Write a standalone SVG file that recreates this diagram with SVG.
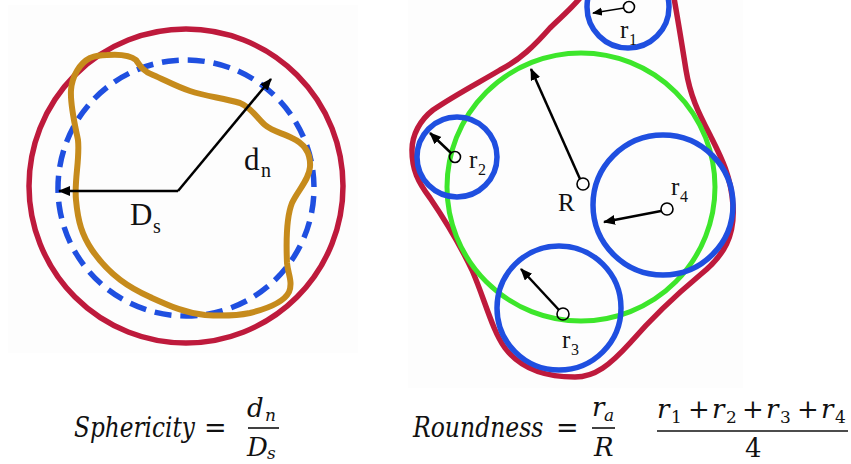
<svg xmlns="http://www.w3.org/2000/svg" width="851" height="464" viewBox="0 0 851 464">
<style>
.red{fill:none;stroke:#BE1A3C;stroke-width:5.5}
.blue{fill:none;stroke:#1F4FE0;stroke-width:5.5}
.green{fill:none;stroke:#3DE62B;stroke-width:5}
.brown{fill:none;stroke:#C68B1C;stroke-width:6;stroke-linejoin:round}
.arr{stroke:#000;stroke-width:2.5;fill:none;marker-end:url(#ah)}
.arrt{stroke:#000;stroke-width:1.3;fill:none;marker-end:url(#ahs)}
.dot{fill:none;stroke:#000;stroke-width:1.6}
.lbl{font-family:"Liberation Serif","Times New Roman",serif;fill:#111}
.math{font-family:"DejaVu Serif",serif;font-style:italic;fill:#111}
.up{font-family:"DejaVu Serif",serif;fill:#111}
.bar{stroke:#111;stroke-width:1.6}
</style>
<defs>
<marker id="ah" markerUnits="userSpaceOnUse" markerWidth="14" markerHeight="12" refX="11" refY="5" orient="auto"><path d="M0,0 L12,5 L0,10 Z" fill="#000"/></marker>
<marker id="ahs" markerUnits="userSpaceOnUse" markerWidth="12" markerHeight="10" refX="9" refY="4" orient="auto"><path d="M0,0 L10,4 L0,8 Z" fill="#000"/></marker>
</defs>
<rect x="0" y="0" width="851" height="464" fill="#fff"/>
<rect x="8" y="5" width="350" height="348" fill="#fdfdfd"/>
<rect x="408" y="0" width="335" height="388" fill="#fdfdfd"/>

<g id="sphericity">
<circle class="red" cx="186" cy="186" r="157"/>
<circle class="blue" cx="186" cy="188" r="128" stroke-dasharray="17 8.94" transform="rotate(-8 186 188)"/>
<path class="brown" d="M107,55 C120,54 130,55 136,60 C140,66 143,71 153,75 C165,80 175,86 190,91 C205,96 222,98 240,103 C252,108 256,117 265,125 C272,131 282,133 292,138 C303,143 311,152 310,167 C309,180 298,190 292,203 C286,218 286,240 287,263 C288,274 293,282 289,292 C284,302 270,308 250,313 C235,316 220,316 205,315 C185,313 170,306 150,297 C130,288 110,276 92,250 C82,235 78,222 76,200 C74,180 80,160 78,140 C75,125 70,105 71,90 C72,76 80,63 90,58 C95,56 100,55 107,55 Z"/>
<line class="arr" x1="178" y1="191" x2="59" y2="191"/>
<line class="arr" x1="178" y1="191" x2="271" y2="79"/>
<text class="lbl" x="244" y="170" font-size="31">d</text>
<text class="lbl" x="261" y="177" font-size="20">n</text>
<text class="lbl" x="130" y="225" font-size="31">D</text>
<text class="lbl" x="153" y="233" font-size="20">s</text>
</g>

<g id="roundness">
<path class="red" d="M580,-2 C570,10 560,18 550,28 C535,45 520,60 500,70 C480,82 455,95 433,110 C420,120 412,135 412,150 C412,170 418,182 430,198 C445,220 460,245 472,270 C485,300 492,330 505,348 C520,368 545,377 575,377 C595,377 610,365 630,343 C650,320 670,300 700,275 C725,255 735,235 733,205 C731,175 720,155 710,135 C698,112 690,95 686,70 C682,45 678,20 674,-2"/>
<circle class="green" cx="581" cy="187" r="134"/>
<circle class="blue" cx="628" cy="7" r="41"/>
<circle class="blue" cx="457" cy="157" r="40"/>
<circle class="blue" cx="663" cy="205" r="70"/>
<circle class="blue" cx="559" cy="308" r="62"/>
<circle class="dot" cx="629" cy="7" r="5.5"/>
<circle class="dot" cx="455" cy="157" r="5.5"/>
<circle class="dot" cx="583" cy="184" r="6"/>
<circle class="dot" cx="667" cy="209" r="6"/>
<circle class="dot" cx="563" cy="314" r="6"/>
<line class="arrt" x1="624" y1="8" x2="593" y2="13"/>
<line class="arr" x1="451" y1="153" x2="430" y2="133"/>
<line class="arr" x1="580" y1="179" x2="531" y2="69"/>
<line class="arr" x1="661" y1="211" x2="604" y2="222"/>
<line class="arr" x1="559" y1="310" x2="521" y2="269"/>
<text class="lbl" x="620" y="38" font-size="25">r</text>
<text class="lbl" x="629" y="45" font-size="16">1</text>
<text class="lbl" x="469" y="168" font-size="25">r</text>
<text class="lbl" x="478" y="175" font-size="16">2</text>
<text class="lbl" x="558" y="211" font-size="25">R</text>
<text class="lbl" x="671" y="195" font-size="25">r</text>
<text class="lbl" x="680" y="202" font-size="16">4</text>
<text class="lbl" x="562" y="348" font-size="25">r</text>
<text class="lbl" x="571" y="355" font-size="16">3</text>
</g>

<g id="formula-sphericity">
<text class="math" font-size="28" transform="translate(74,437) scale(0.83,1)">Sphericity</text>
<text class="up" x="204" y="437" font-size="27">=</text>
<text class="math" x="247" y="417" font-size="26">d</text>
<text class="math" x="265" y="421" font-size="17">n</text>
<line class="bar" x1="248" y1="428" x2="279" y2="428"/>
<text class="math" x="247" y="456" font-size="26">D</text>
<text class="math" x="267" y="459" font-size="17">s</text>
</g>

<g id="formula-roundness">
<text class="math" font-size="28" transform="translate(413,437) scale(0.84,1)">Roundness</text>
<text class="up" x="556" y="437" font-size="27">=</text>
<text class="math" x="592" y="416" font-size="26">r</text>
<text class="math" x="604" y="421" font-size="17">a</text>
<line class="bar" x1="592" y1="428" x2="615" y2="428"/>
<text class="math" x="594" y="456" font-size="26">R</text>
<text class="math" x="657" y="418" font-size="26">r</text>
<text class="up" x="671" y="423" font-size="17">1</text>
<text class="up" x="688" y="418" font-size="26">+</text>
<text class="math" x="712" y="418" font-size="26">r</text>
<text class="up" x="726" y="423" font-size="17">2</text>
<text class="up" x="742" y="418" font-size="26">+</text>
<text class="math" x="766" y="418" font-size="26">r</text>
<text class="up" x="780" y="423" font-size="17">3</text>
<text class="up" x="797" y="418" font-size="26">+</text>
<text class="math" x="821" y="418" font-size="26">r</text>
<text class="up" x="835" y="423" font-size="17">4</text>
<line class="bar" x1="657" y1="431" x2="848" y2="431"/>
<text class="up" x="745" y="457" font-size="26">4</text>
</g>
</svg>
